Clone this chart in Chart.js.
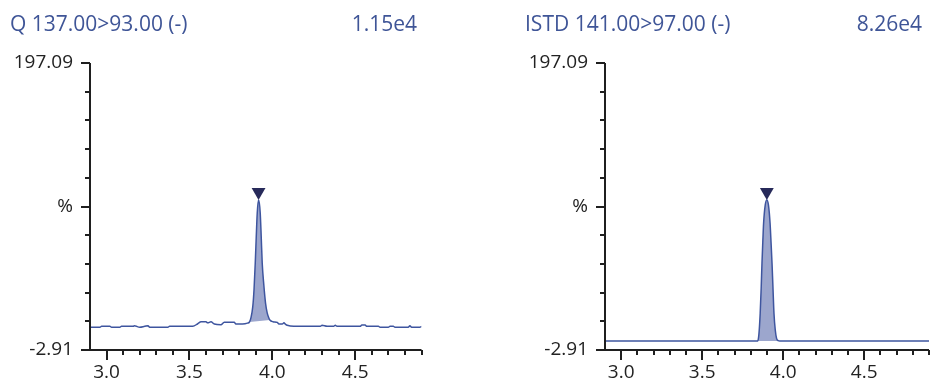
<!DOCTYPE html>
<html>
<head>
<meta charset="utf-8">
<script src="https://cdn.jsdelivr.net/npm/chart.js@4"></script>
<style>
  body { margin: 0; width: 935px; height: 384px; overflow: hidden; background: #fff; position: relative; font-family: "Open Sans", sans-serif; }
  .panel { position: absolute; top: 0; height: 384px; }
  .title { position: absolute; top: 10px; font-size: 21px; line-height: 27px; color: #3f5597; white-space: nowrap; }
  canvas { position: absolute; top: 0; left: 0; }
</style>
</head>
<body>
<div class="panel" style="left:0; width:467px;">
  <canvas id="chartQ" width="467" height="384"></canvas>
  <div class="title" style="left:10px;">Q 137.00&gt;93.00 (-)</div>
  <div class="title" style="right:50px;">1.15e4</div>
</div>
<div class="panel" style="left:515px; width:425px;">
  <canvas id="chartIstd" width="425" height="384"></canvas>
  <div class="title" style="left:10px;">ISTD 141.00&gt;97.00 (-)</div>
  <div class="title" style="right:18px;">8.26e4</div>
</div>
<script>
// --- axis ticks (shared by both traces) ---
const xTicks = [3.0, 3.1, 3.2, 3.3, 3.4, 3.5, 3.6, 3.7, 3.8, 3.9, 4.0, 4.1, 4.2, 4.3, 4.4, 4.5, 4.6, 4.7, 4.8, 4.9];
const xTickLabels = ['3.0', '', '', '', '', '3.5', '', '', '', '', '4.0', '', '', '', '', '4.5', '', '', '', ''];
const yTicks = [-2.91, 17.09, 37.09, 57.09, 77.09, 97.09, 117.09, 137.09, 157.09, 177.09, 197.09];
const yTickLabels = ['-2.91', '', '', '', '', '%', '', '', '', '', '197.09'];

// --- Q 137.00>93.00 trace ---
const qTime = [2.90, 2.96, 2.97, 3.02, 3.03, 3.08, 3.09, 3.16, 3.17, 3.18, 3.20, 3.23, 3.25, 3.26, 3.37,
  3.38, 3.52, 3.55, 3.57, 3.60, 3.61, 3.63, 3.65, 3.69, 3.71, 3.77, 3.78, 3.82, 3.85, 3.862,
  3.872, 3.882, 3.890, 3.897, 3.903, 3.909, 3.917, 3.927, 3.933, 3.939, 3.949, 3.959, 3.969, 3.979, 3.985,
  4.004, 4.03, 4.04, 4.06, 4.07, 4.08, 4.09, 4.13, 4.29, 4.30, 4.33, 4.37, 4.38, 4.39, 4.53,
  4.54, 4.56, 4.57, 4.64, 4.65, 4.70, 4.71, 4.73, 4.74, 4.82, 4.83, 4.84, 4.89, 4.90];
const qInt = [12.9, 12.9, 13.6, 13.6, 12.9, 12.9, 13.6, 13.6, 14.0, 13.6, 13.0, 13.6, 14.0, 12.9, 12.9,
  13.6, 13.6, 15.4, 16.7, 16.7, 16.0, 16.7, 15.2, 14.7, 16.5, 16.5, 15.2, 15.2, 15.8, 16.6,
  20.0, 27.3, 40.0, 57.7, 76.0, 92.6, 101.6, 92.6, 76.0, 57.7, 42.0, 29.8, 23.0, 19.4, 18.0,
  16.8, 16.3, 15.2, 15.2, 16.0, 15.0, 14.3, 13.6, 13.6, 14.3, 13.6, 13.6, 14.3, 13.6, 13.6,
  14.5, 14.5, 13.6, 13.6, 12.9, 12.9, 13.6, 13.6, 12.9, 12.9, 14.0, 12.9, 12.9, 13.6];
const qBaseTime = [3.862, 3.985];   // integration baseline
const qBaseInt = [16.6, 18.0];
const qMarkTime = [3.917];
const qMarkInt = [107.2];

// --- ISTD 141.00>97.00 trace ---
const iTime = [2.90, 3.843, 3.850, 3.858, 3.864, 3.869, 3.874, 3.879, 3.889, 3.899, 3.909,
  3.919, 3.925, 3.931, 3.937, 3.943, 3.951, 3.959, 3.969, 3.979, 4.90];
const iInt = [3.36, 3.4, 8.0, 22.7, 40.0, 57.5, 72.0, 85.4, 98.1, 101.6, 98.0,
  85.4, 72.0, 57.5, 40.0, 22.7, 11.0, 5.2, 3.6, 3.36, 3.36];
const iBaseTime = [3.843, 3.979];
const iBaseInt = [3.36, 3.36];
const iMarkTime = [3.899];
const iMarkInt = [107.2];

const LINE_COLOR = '#3e559f';
const FILL_COLOR = '#9ca6cd';
const MARK_COLOR = '#272a5a';
const AXIS_COLOR = '#1f1f1f';
const TEXT_COLOR = '#222';

const pts = (xs, ys) => xs.map((x, i) => ({ x: x, y: ys[i] }));

// tick marks + axis lines drawn from the scales
const axisTicks = {
  id: 'axisTicks',
  afterDraw(chart) {
    const { ctx, chartArea } = chart;
    const x = chart.scales.x, y = chart.scales.y;
    ctx.save();
    ctx.strokeStyle = AXIS_COLOR;
    ctx.lineWidth = 2;
    ctx.beginPath();
    ctx.moveTo(chartArea.left, chartArea.top);
    ctx.lineTo(chartArea.left, chartArea.bottom);
    ctx.lineTo(chartArea.right, chartArea.bottom);
    yTicks.forEach((v, i) => {
      const py = Math.round(y.getPixelForValue(v));
      const len = yTickLabels[i] ? 9 : 5;
      ctx.moveTo(chartArea.left - len, py);
      ctx.lineTo(chartArea.left, py);
    });
    xTicks.forEach((v, i) => {
      const px = Math.round(x.getPixelForValue(v));
      const len = xTickLabels[i] ? 10 : 5;
      ctx.moveTo(px, chartArea.bottom);
      ctx.lineTo(px, chartArea.bottom + len);
    });
    ctx.stroke();
    ctx.restore();
  }
};

function makeChart(id, time, inten, baseTime, baseInt, markTime, markInt, padRight) {
  const peak = pts(time, inten).filter(p => p.x >= baseTime[0] && p.x <= baseTime[baseTime.length - 1]);
  return new Chart(document.getElementById(id), {
    type: 'line',
    data: {
      datasets: [
        { data: pts(markTime, markInt), showLine: false, pointStyle: 'triangle', rotation: 180,
          pointRadius: 8, pointBackgroundColor: MARK_COLOR, pointBorderWidth: 0 },
        { data: pts(time, inten), borderColor: LINE_COLOR, borderWidth: 1.5, pointRadius: 0,
          cubicInterpolationMode: 'monotone', fill: false },
        { data: peak, borderWidth: 0, borderColor: 'transparent', pointRadius: 0,
          cubicInterpolationMode: 'monotone', backgroundColor: FILL_COLOR, fill: '+1' },
        { data: pts(baseTime, baseInt), borderWidth: 0, borderColor: 'transparent', pointRadius: 0, fill: false }
      ]
    },
    options: {
      responsive: false,
      animation: false,
      events: [],
      layout: { padding: { top: 63, right: padRight, left: 0, bottom: 0 } },
      plugins: { legend: { display: false }, tooltip: { enabled: false } },
      scales: {
        x: {
          type: 'linear', min: 2.9, max: 4.9,
          afterBuildTicks: s => { s.ticks = xTicks.map(v => ({ value: v })); },
          afterFit: s => { s.height = 34; },
          grid: { display: false, drawTicks: false },
          border: { display: false },
          ticks: {
            autoSkip: false, maxRotation: 0, padding: 11, color: TEXT_COLOR,
            font: { family: 'Open Sans', size: 19 },
            callback: (v, i) => xTickLabels[i]
          }
        },
        y: {
          min: -2.91, max: 197.09,
          afterBuildTicks: s => { s.ticks = yTicks.map(v => ({ value: v })); },
          afterFit: s => { s.width = 90; },
          grid: { display: false, drawTicks: false },
          border: { display: false },
          ticks: {
            autoSkip: false, padding: 17, color: TEXT_COLOR,
            font: { family: 'Open Sans', size: 19 },
            callback: (v, i) => yTickLabels[i]
          }
        }
      }
    },
    plugins: [axisTicks]
  });
}

makeChart('chartQ', qTime, qInt, qBaseTime, qBaseInt, qMarkTime, qMarkInt, 45.5);
makeChart('chartIstd', iTime, iInt, iBaseTime, iBaseInt, iMarkTime, iMarkInt, 4);
</script>
</body>
</html>
